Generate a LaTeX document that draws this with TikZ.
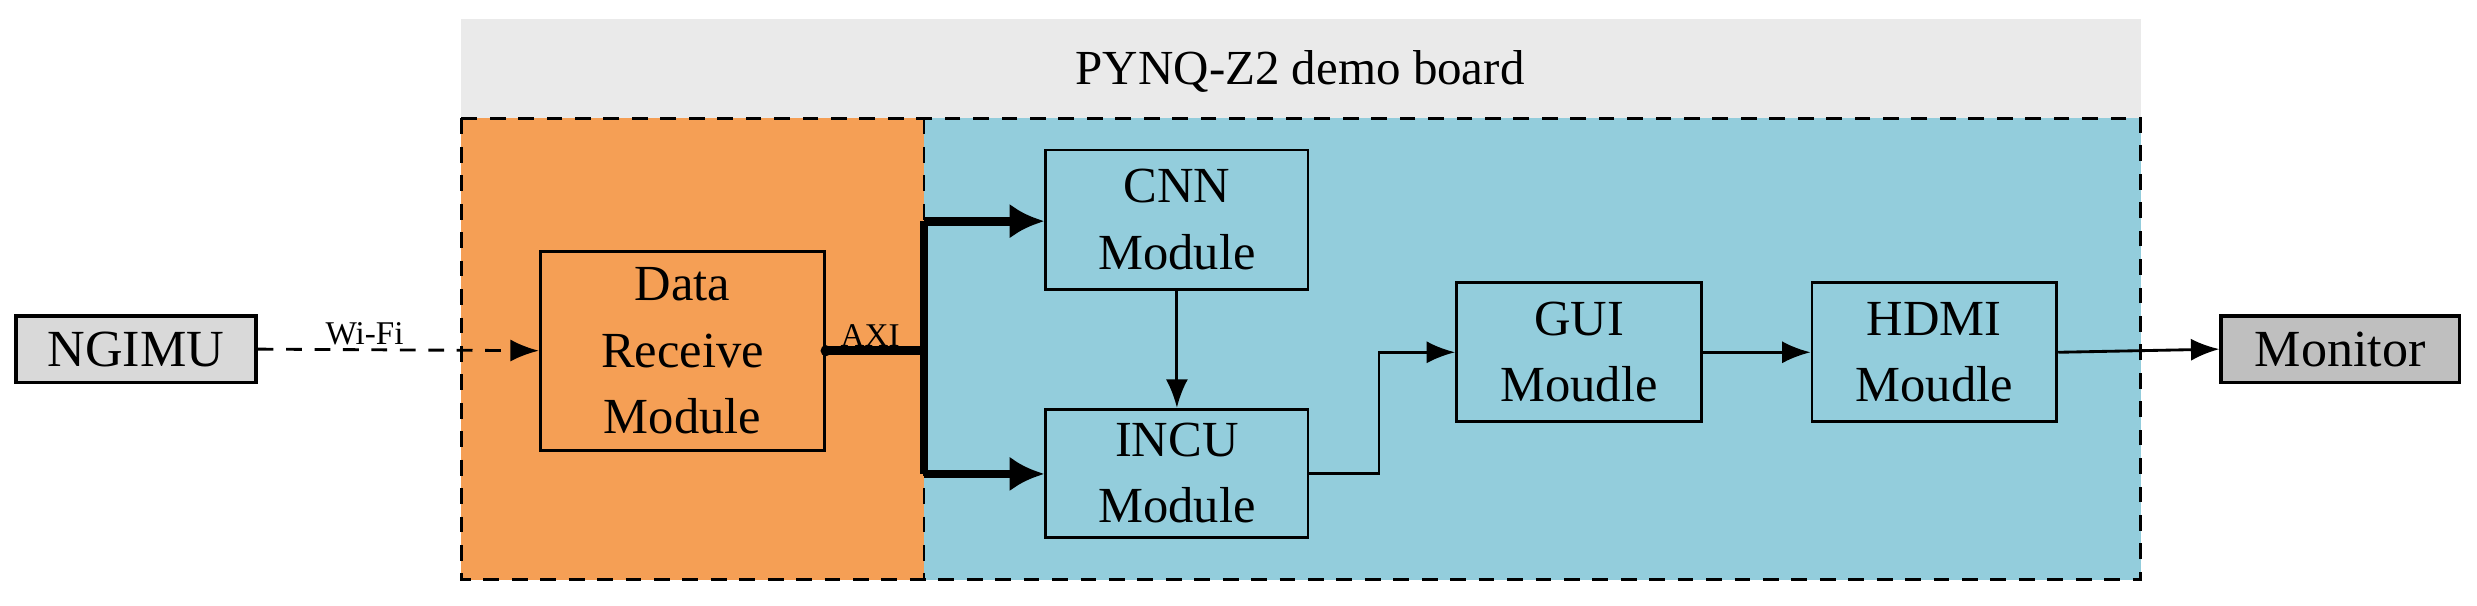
\documentclass[tikz,border=0pt]{standalone}
\usepackage{fontspec}
\setmainfont{Liberation Serif}
\usetikzlibrary{arrows.meta}
\definecolor{bandgray}{HTML}{EAEAEA}
\definecolor{orangefill}{HTML}{F59F55}
\definecolor{bluefill}{HTML}{93CDDC}
\definecolor{ngfill}{HTML}{D9D9D9}
\definecolor{monfill}{HTML}{BFBFBF}
\begin{document}
\begin{tikzpicture}[x=1pt,y=-1pt,
  mod/.style={draw,line width=1.8pt,align=center,font=\fontsize{32}{42}\selectfont,inner sep=0pt},
  ext/.style={draw,line width=2.2pt,font=\fontsize{33}{40}\selectfont,inner sep=0pt},
  arr/.style={line width=1.8pt,-{Latex[length=18pt,width=14pt]}},
  bus/.style={line width=5.5pt,-{Latex[length=22pt,width=22pt]}},
  lbl/.style={font=\fontsize{21}{24}\selectfont,inner sep=2pt}]
\useasboundingbox (0,0) rectangle (1568,383);
\fill[bandgray] (292,12) rectangle (1355,75);
\fill[orangefill] (292,75) rectangle (585,367);
\fill[bluefill] (585,75) rectangle (1355,367);
\draw[line width=2pt,dash pattern=on 10pt off 8pt] (292,75) rectangle (1355,367);
\draw[line width=1.5pt,dash pattern=on 10pt off 8pt] (585,75) -- (585,367);
\node[font=\fontsize{31}{36}\selectfont] (title) at (823,45) {PYNQ-Z2 demo board};
\node[ext,fill=ngfill,minimum width=152pt,minimum height=42pt] (ng) at (86,221) {NGIMU};
\node[ext,fill=monfill,minimum width=151pt,minimum height=42pt] (mon) at (1481.5,221) {Monitor};
\node[mod,minimum width=180pt,minimum height=126pt] (data) at (432,222) {Data\\Receive\\Module};
\node[mod,minimum width=166pt,minimum height=88pt] (cnn) at (745,139) {CNN\\Module};
\node[mod,minimum width=166pt,minimum height=81pt] (incu) at (745,299.5) {INCU\\Module};
\node[mod,minimum width=155pt,minimum height=88pt] (gui) at (999.5,223) {GUI\\Moudle};
\node[mod,minimum width=155pt,minimum height=88pt] (hdmi) at (1224.5,223) {HDMI\\Moudle};
\coordinate (bj) at (585,222);
\coordinate (bt) at (585,140);
\coordinate (bb) at (585,300);
\draw[arr,dash pattern=on 10pt off 8pt] (ng.east) -- node[lbl,above,pos=0.38]{Wi-Fi} (data.west);
\fill (data.east) circle (3.5pt);
\draw[line width=5.5pt] (data.east) -- node[lbl,above,pos=0.45,yshift=-2pt]{AXI} (bj);
\draw[line width=5.5pt] (bt) -- (bb);
\draw[bus] ([yshift=0pt]bt) -- (bt -| cnn.west);
\draw[bus] (bb) -- (bb -| incu.west);
\draw[arr] (cnn.south) -- (incu.north);
\draw[arr] (incu.east) -- ++(44,0) |- (gui.west);
\draw[arr] (gui.east) -- (hdmi.west);
\draw[arr] (hdmi.east) -- (mon.west);
\end{tikzpicture}
\end{document}
